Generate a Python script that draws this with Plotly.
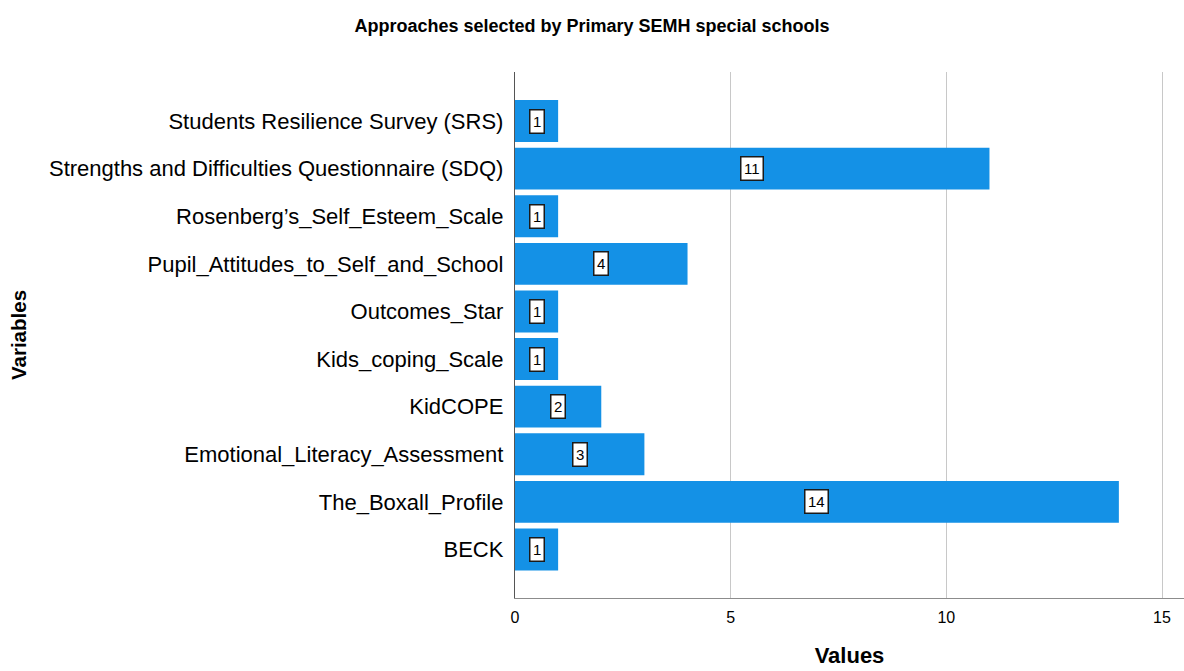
import plotly.graph_objects as go

# Assessment approaches and the number of schools selecting each
approaches = [
    "BECK",
    "The_Boxall_Profile",
    "Emotional_Literacy_Assessment",
    "KidCOPE",
    "Kids_coping_Scale",
    "Outcomes_Star",
    "Pupil_Attitudes_to_Self_and_School",
    "Rosenberg\u2019s_Self_Esteem_Scale",
    "Strengths and Difficulties Questionnaire (SDQ)",
    "Students Resilience Survey (SRS)",
]
counts = [1, 14, 3, 2, 1, 1, 4, 1, 11, 1]

x_ticks = [0, 5, 10, 15]

BAR_COLOR = "#1491e6"
FONT = "Liberation Sans, Arial, sans-serif"

fig = go.Figure()
fig.add_trace(
    go.Bar(
        x=counts,
        y=approaches,
        orientation="h",
        width=0.88,
        marker=dict(color=BAR_COLOR, line=dict(width=0)),
        hoverinfo="x+y",
    )
)

# Value labels in boxed callouts at the middle of each bar
for name, val in zip(approaches, counts):
    fig.add_annotation(
        x=val / 2,
        y=name,
        text=str(val),
        showarrow=False,
        font=dict(family=FONT, size=15, color="#000000"),
        bgcolor="#ffffff",
        bordercolor="#1a1a1a",
        borderwidth=1.5,
        borderpad=2.5,
    )

fig.update_layout(
    width=1184,
    height=671,
    margin=dict(l=515, r=0, t=72, b=73),
    paper_bgcolor="#ffffff",
    plot_bgcolor="#ffffff",
    showlegend=False,
    bargap=0.12,
    font=dict(family=FONT, color="#000000"),
    title=dict(
        text="<b>Approaches selected by Primary SEMH special schools</b>",
        x=0.5,
        xref="container",
        xanchor="center",
        y=0.962,
        yref="container",
        yanchor="middle",
        font=dict(family=FONT, size=18, color="#000000"),
    ),
    xaxis=dict(
        range=[0, 15.51],
        tickvals=x_ticks,
        ticktext=[str(t) for t in x_ticks],
        tickfont=dict(family=FONT, size=16, color="#000000"),
        ticks="outside",
        ticklen=5,
        tickcolor="rgba(0,0,0,0)",
        showgrid=True,
        gridcolor="#c8c8c8",
        gridwidth=1.3,
        zeroline=False,
        showline=True,
        linecolor="#8c8c8c",
        linewidth=1.3,
        title=dict(
            text="<b>Values</b>",
            font=dict(family=FONT, size=22, color="#000000"),
            standoff=22,
        ),
        fixedrange=True,
    ),
    yaxis=dict(
        categoryorder="array",
        categoryarray=approaches,
        range=[-1.02, 10.03],
        tickfont=dict(family=FONT, size=22, color="#000000"),
        ticks="outside",
        ticklen=6,
        tickcolor="rgba(0,0,0,0)",
        showgrid=False,
        zeroline=False,
        showline=True,
        linecolor="#555555",
        linewidth=1.3,
        title=dict(text="", font=dict(family=FONT, size=18)),
        fixedrange=True,
    ),
)

# Vertical axis title placed at the far left of the canvas
fig.add_annotation(
    text="<b>Variables</b>",
    xref="paper",
    yref="paper",
    x=-515 / 669 + 18 / 669,
    y=0.5,
    xanchor="center",
    yanchor="middle",
    textangle=-90,
    showarrow=False,
    font=dict(family=FONT, size=20.5, color="#000000"),
)

fig.write_html("out.html")
